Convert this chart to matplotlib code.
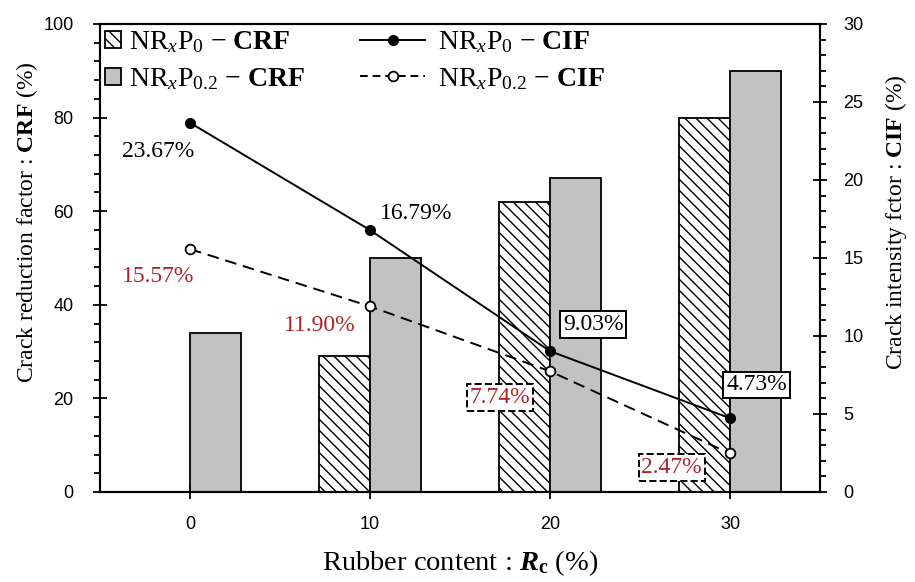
import numpy as np
import matplotlib
matplotlib.use('Agg')
import matplotlib.pyplot as plt
from matplotlib.lines import Line2D
from matplotlib.patches import Patch

# Data
rubber = [0, 10, 20, 30]
crf_p0 = [0, 29, 62, 80]       # NRxP0 - CRF (%)
crf_p02 = [34, 50, 67, 90]     # NRxP0.2 - CRF (%)
cif_p0 = [23.67, 16.79, 9.03, 4.73]
cif_p02 = [15.57, 11.90, 7.74, 2.47]

plt.rcParams['mathtext.fontset'] = 'custom'
plt.rcParams['mathtext.rm'] = 'Liberation Serif'
plt.rcParams['mathtext.it'] = 'Liberation Serif:italic'
plt.rcParams['mathtext.bf'] = 'Liberation Serif:bold'
plt.rcParams['mathtext.bfit'] = 'Liberation Serif:italic:bold'
plt.rcParams['hatch.linewidth'] = 1.0

serif = 'Liberation Serif'
tickfont = ['Liberation Sans Narrow', 'Liberation Sans']
red = '#b0232a'
grey = '#c2c2c2'

fig = plt.figure(figsize=(9.15, 5.82), dpi=100)
ax = fig.add_axes([100 / 915, 1 - 492 / 582, 720 / 915, 468 / 582])
ax2 = ax.twinx()

w = 2.85
x = np.array(rubber, dtype=float)
ax.bar(x - w / 2, crf_p0, width=w, facecolor='white', edgecolor='black',
       hatch='\\\\\\', linewidth=1.3, zorder=2)
ax.bar(x + w / 2, crf_p02, width=w, facecolor=grey, edgecolor='black',
       linewidth=1.3, zorder=2)

ax2.plot(rubber, cif_p0, color='black', lw=1.4, marker='o', ms=7,
         mfc='black', mec='black', zorder=5)
ax2.plot(rubber, cif_p02, color='black', lw=1.4, ls=(0, (6, 3.5)), marker='o',
         ms=7, mfc='white', mec='black', mew=1.3, zorder=5)

ax.set_xlim(-5, 35)
ax.set_ylim(0, 100)
ax2.set_ylim(0, 30)
ax.set_xticks(rubber)
ax.set_yticks(np.arange(0, 101, 20))
ax.set_yticks(np.arange(0, 101, 4), minor=True)
ax2.set_yticks(np.arange(0, 31, 5))
ax2.set_yticks(np.arange(0, 31, 1), minor=True)

for a in (ax, ax2):
    for s in a.spines.values():
        s.set_linewidth(1.5)
ax.tick_params(axis='both', which='major', direction='inout', length=10,
               width=1.3, labelsize=13)
ax.tick_params(axis='y', which='minor', direction='out', length=4, width=1.3)
ax.tick_params(axis='y', which='major', pad=14)
ax.tick_params(axis='x', which='major', pad=12)
ax2.tick_params(axis='y', which='major', direction='inout', length=10,
                width=1.3, labelsize=13, pad=12)
ax2.tick_params(axis='y', which='minor', direction='out', length=4, width=1.3)
for lab in ax.get_xticklabels() + ax.get_yticklabels() + ax2.get_yticklabels():
    lab.set_family(tickfont)

ax.set_xlabel(r'Rubber content : $\boldsymbol{R}_{\mathbf{c}}$ (%)',
              family=serif, fontsize=20.5, labelpad=11)
ax.set_ylabel(r'Crack reduction factor : $\mathbf{CRF}$ (%)',
              family=serif, fontsize=17)
ax.yaxis.set_label_coords(-0.084, 0.577)
ax2.set_ylabel(r'Crack intensity fctor : $\mathbf{CIF}$ (%)',
               family=serif, fontsize=17)
ax2.yaxis.set_label_coords(1.088, 0.577)

# value labels on CIF points (offsets in points)
offs_p0 = [(-23, -21), (33, 12), (31, 19), (19, 24)]
box_p0 = [None, None, '-', '-']
offs_p02 = [(-23, -20), (-36, -14), (-36, -19), (-42, -10)]
box_p02 = [None, None, '--', '--']
for vals, offs, boxes, col in [(cif_p0, offs_p0, box_p0, 'black'),
                               (cif_p02, offs_p02, box_p02, red)]:
    for xi, v, o, b in zip(rubber, vals, offs, boxes):
        bbox = None
        if b is not None:
            bbox = dict(boxstyle='square,pad=0.12', fc='white', ec='black',
                        lw=1.4, ls=b)
        ax2.annotate(f'{v:.2f}%', (xi, v), xytext=o, textcoords='offset points',
                     ha='center', va='center', family=serif, fontsize=17,
                     color=col, bbox=bbox, zorder=6)

bar_handles = [Patch(facecolor='white', edgecolor='black', hatch='\\\\\\', lw=1.3),
               Patch(facecolor=grey, edgecolor='black', lw=1.3)]
bar_labels = [r'NR$_x$P$_0$ $-$ $\mathbf{CRF}$',
              r'NR$_x$P$_{0.2}$ $-$ $\mathbf{CRF}$']
line_handles = [Line2D([], [], color='black', lw=1.4, marker='o', ms=7,
                       mfc='black'),
                Line2D([], [], color='black', lw=1.4, ls=(0, (4, 2.5)),
                       marker='o', ms=7, mfc='white', mew=1.3)]
line_labels = [r'NR$_x$P$_0$ $-$ $\mathbf{CIF}$',
               r'NR$_x$P$_{0.2}$ $-$ $\mathbf{CIF}$']

leg_font = {'family': serif, 'size': 20}
leg1 = ax.legend(bar_handles, bar_labels, loc='upper left',
                 bbox_to_anchor=(0.007, 0.988), frameon=False, prop=leg_font,
                 handlelength=0.57, handleheight=0.57, handletextpad=0.3,
                 labelspacing=0.38, borderpad=0, borderaxespad=0)
ax.add_artist(leg1)
leg2 = ax.legend(line_handles, line_labels, loc='upper left',
                 bbox_to_anchor=(0.361, 0.988), frameon=False, prop=leg_font,
                 handlelength=2.35, handletextpad=0.45, labelspacing=0.38,
                 borderpad=0, borderaxespad=0)

fig.savefig('out.png', dpi=100)
